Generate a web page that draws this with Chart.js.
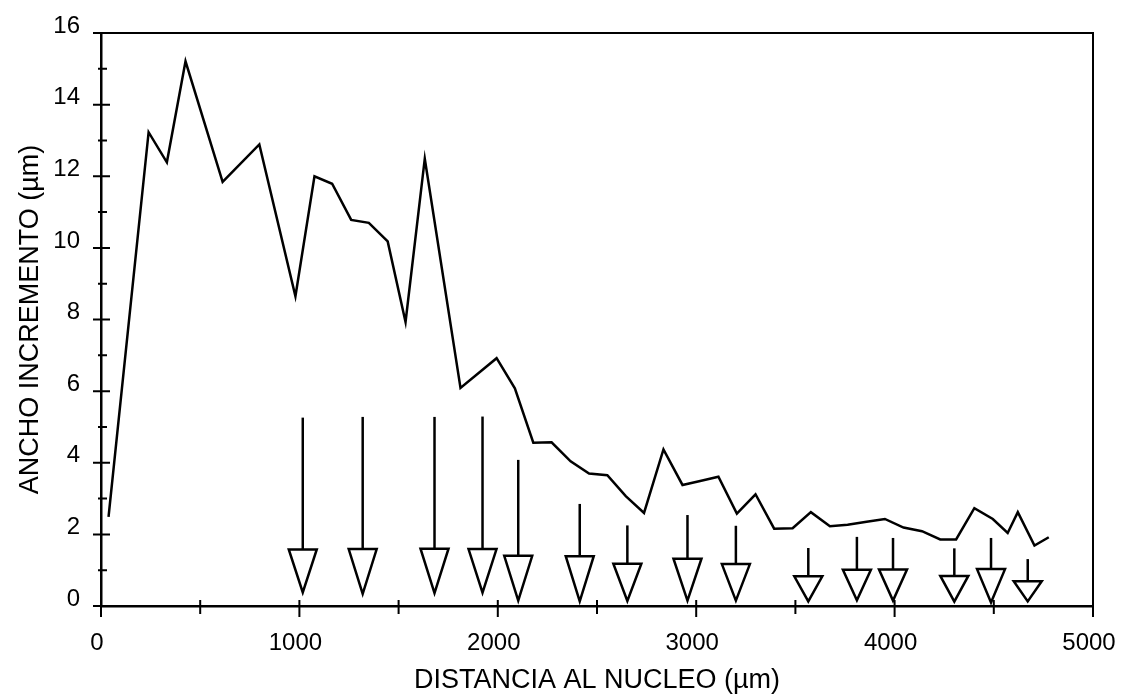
<!DOCTYPE html>
<html>
<head>
<meta charset="utf-8">
<script src="https://cdn.jsdelivr.net/npm/chart.js@4.4.1/dist/chart.umd.min.js"></script>
<style>
  html, body { margin: 0; padding: 0; background: #fff; }
  canvas { display: block; }
</style>
</head>
<body>
<canvas id="chart" width="1123" height="700"></canvas>
<script>
// distancia al núcleo (µm) y ancho del incremento (µm)
const distX = [38, 240, 332, 426, 613, 798, 980, 1076, 1165, 1261, 1350, 1445, 1535, 1632, 1812, 1994,
    2086, 2179, 2271, 2367, 2460, 2552, 2645, 2737, 2835, 2931, 3020, 3112, 3205, 3299, 3393, 3486,
    3578, 3674, 3763, 3859, 3951, 4045, 4138, 4230, 4310, 4402, 4495, 4570, 4621, 4705, 4777];
const anchoY = [2.49, 13.23, 12.39, 15.21, 11.84, 12.89, 8.65, 12.0, 11.79, 10.78, 10.7, 10.18, 7.93, 12.49, 6.09, 6.92,
    6.08, 4.56, 4.57, 4.04, 3.7, 3.65, 3.07, 2.6, 4.37, 3.38, 3.49, 3.61, 2.58, 3.12, 2.16, 2.17,
    2.62, 2.23, 2.27, 2.35, 2.43, 2.19, 2.09, 1.86, 1.86, 2.73, 2.43, 2.04, 2.62, 1.69, 1.92];

// flechas: posición, inicio del trazo, base de la punta, vértice
const arrowX = [1017, 1319, 1681, 1923, 2103, 2413, 2653, 2956, 3200, 3565, 3810, 3992, 4301, 4486, 4671];
const arrowTop = [5.26, 5.28, 5.28, 5.29, 4.08, 2.85, 2.25, 2.54, 2.24, 1.62, 1.93, 1.9, 1.61, 1.9, 1.31];
const arrowHead = [1.58, 1.59, 1.6, 1.59, 1.4, 1.39, 1.18, 1.32, 1.17, 0.83, 1.01, 1.02, 0.84, 1.03, 0.69];
const arrowTip = [0.38, 0.34, 0.36, 0.37, 0.15, 0.13, 0.14, 0.15, 0.15, 0.13, 0.16, 0.15, 0.12, 0.1, 0.13];

const xTitle = 'DISTANCIA AL NUCLEO (µm)';
const yTitle = 'ANCHO INCREMENTO (µm)';

const FONT = "'Liberation Sans', Arial, sans-serif";

// marco superior/derecho, marcas de los ejes y flechas
const decorPlugin = {
    id: 'decor',
    afterDatasetsDraw(chart) {
        const { ctx, chartArea: a, scales: { x, y } } = chart;
        ctx.save();
        ctx.strokeStyle = '#000';
        ctx.lineCap = 'butt';

        ctx.lineWidth = 2;
        ctx.beginPath();
        ctx.moveTo(a.left, a.top);
        ctx.lineTo(a.right, a.top);
        ctx.lineTo(a.right, a.bottom);
        ctx.stroke();

        ctx.beginPath();
        x.ticks.forEach(t => {
            const px = x.getPixelForValue(t.value);
            const major = t.value % 1000 === 0;
            ctx.moveTo(px, a.bottom - 6);
            ctx.lineTo(px, a.bottom + (major ? 11 : 8));
        });
        y.ticks.forEach(t => {
            const py = y.getPixelForValue(t.value);
            const major = t.value % 2 === 0;
            ctx.moveTo(a.left - (major ? 8 : 3), py);
            ctx.lineTo(a.left + (major ? 9 : 6), py);
        });
        ctx.stroke();

        ctx.lineWidth = 2.5;
        ctx.lineJoin = 'miter';
        arrowX.forEach((v, i) => {
            const px = x.getPixelForValue(v);
            const top = y.getPixelForValue(arrowTop[i]);
            const head = y.getPixelForValue(arrowHead[i]);
            const tip = y.getPixelForValue(arrowTip[i]);
            ctx.beginPath();
            ctx.moveTo(px, top);
            ctx.lineTo(px, head);
            ctx.stroke();
            ctx.beginPath();
            ctx.moveTo(px - 14, head);
            ctx.lineTo(px + 14, head);
            ctx.lineTo(px, tip);
            ctx.closePath();
            ctx.stroke();
        });
        ctx.restore();
    }
};

new Chart(document.getElementById('chart'), {
    type: 'line',
    data: {
        datasets: [{
            data: distX.map((d, i) => ({ x: d, y: anchoY[i] })),
            borderColor: '#000',
            borderWidth: 2.5,
            pointRadius: 0,
            tension: 0,
            fill: false
        }]
    },
    options: {
        responsive: false,
        animation: false,
        layout: { padding: { top: 33, right: 30, left: 0, bottom: 0 } },
        plugins: {
            legend: { display: false },
            tooltip: { enabled: false }
        },
        scales: {
            x: {
                type: 'linear',
                min: 0,
                max: 5000,
                afterFit(s) {
                    s.height = 94;
                    s.paddingLeft = 0;
                    s.paddingRight = 0;
                },
                grid: { display: false, drawTicks: false },
                border: { display: true, color: '#000', width: 2.5 },
                ticks: {
                    stepSize: 500,
                    padding: 23,
                    labelOffset: -4,
                    maxRotation: 0,
                    autoSkip: false,
                    color: '#000',
                    font: { family: FONT, size: 24 },
                    callback: v => (v % 1000 === 0 ? v : '')
                },
                title: {
                    display: true,
                    text: xTitle,
                    color: '#000',
                    font: { family: FONT, size: 27 },
                    padding: { top: 0, bottom: 3 }
                }
            },
            y: {
                min: 0,
                max: 16,
                afterFit(s) {
                    s.width = 101;
                    s.paddingTop = 0;
                    s.paddingBottom = 0;
                },
                grid: { display: false, drawTicks: false },
                border: { display: true, color: '#000', width: 2.5 },
                ticks: {
                    stepSize: 1,
                    padding: 21,
                    labelOffset: -7,
                    autoSkip: false,
                    color: '#000',
                    font: { family: FONT, size: 24 },
                    callback: v => (v % 2 === 0 ? v : '')
                },
                title: {
                    display: true,
                    text: yTitle,
                    color: '#000',
                    font: { family: FONT, size: 27 },
                    padding: { top: 14, bottom: 0 }
                }
            }
        }
    },
    plugins: [decorPlugin]
});
</script>
</body>
</html>
